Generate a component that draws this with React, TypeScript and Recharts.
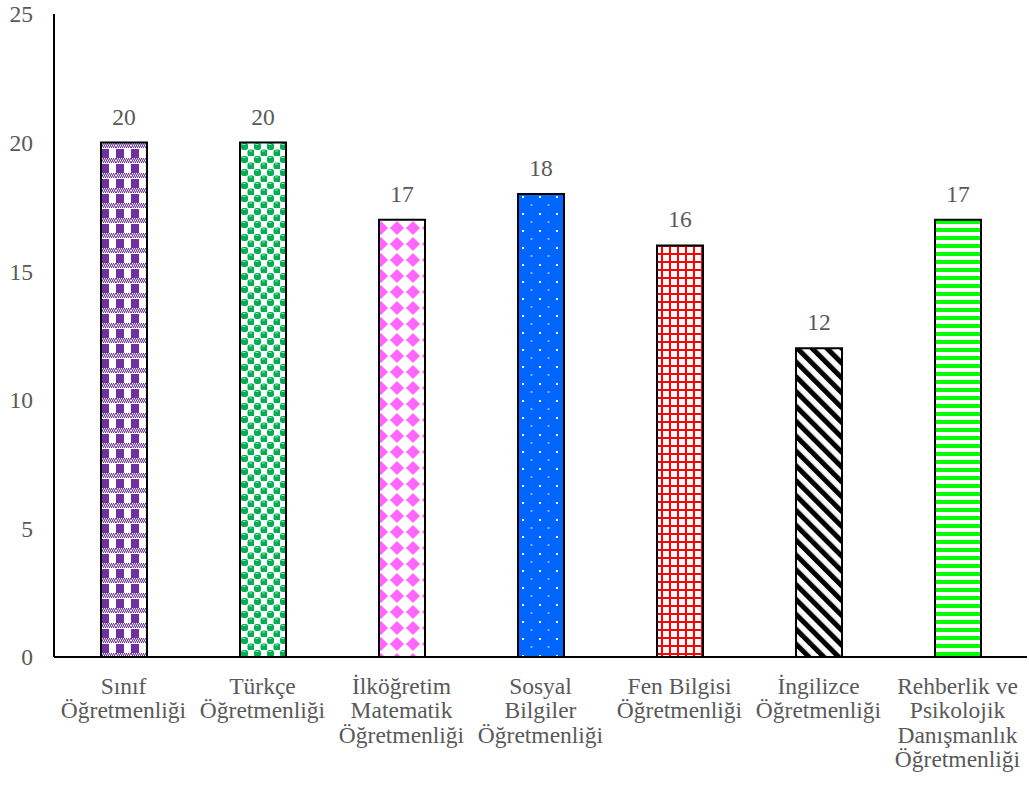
import { BarChart, Bar, XAxis, YAxis, LabelList, Cell } from "recharts";

const CATEGORIES = [
  "Sınıf Öğretmenliği",
  "Türkçe Öğretmenliği",
  "İlköğretim Matematik Öğretmenliği",
  "Sosyal Bilgiler Öğretmenliği",
  "Fen Bilgisi Öğretmenliği",
  "İngilizce Öğretmenliği",
  "Rehberlik ve Psikolojik Danışmanlık Öğretmenliği",
];

const TICK_LINES: string[][] = [
  ["Sınıf", "Öğretmenliği"],
  ["Türkçe", "Öğretmenliği"],
  ["İlköğretim", "Matematik", "Öğretmenliği"],
  ["Sosyal", "Bilgiler", "Öğretmenliği"],
  ["Fen Bilgisi", "Öğretmenliği"],
  ["İngilizce", "Öğretmenliği"],
  ["Rehberlik ve", "Psikolojik", "Danışmanlık", "Öğretmenliği"],
];

const COUNTS = [20, 20, 17, 18, 16, 12, 17];

const Y_TICKS = [0, 5, 10, 15, 20, 25];

const PATTERN_IDS = ["p-plaid", "p-sphere", "p-diamond", "p-dots", "p-grid", "p-diag", "p-hstripe"];

const FONT = "'Liberation Serif', 'Times New Roman', serif";
const FS = 23.5;

const data = CATEGORIES.map((name, i) => ({ name, value: COUNTS[i], idx: i }));

function Patterns() {
  return (
    <svg width={0} height={0} style={{ position: "absolute" }}>
      <defs>
        {/* purple plaid */}
        <pattern id="p-plaid" width={15} height={15} patternUnits="userSpaceOnUse" x={101} y={143}>
          <rect width={15} height={15} fill="#fff" />
          <rect x={0} y={0} width={8} height={15} fill="#7030A0" />
          <rect x={0} y={0} width={15} height={6} fill="#fff" />
          {[0, 2, 4, 6, 8, 10, 12, 14].map((x) =>
            [0, 2, 4].map((y) => (
              <rect key={`${x}-${y}`} x={x + ((y / 2) % 2)} y={y} width={1} height={1} fill="#7030A0" />
            ))
          )}
          <rect x={0} y={1} width={15} height={1} fill="#a47dc9" />
          <rect x={0} y={3} width={15} height={1} fill="#a47dc9" />
        </pattern>
        {/* green spheres */}
        <pattern id="p-sphere" width={13} height={13} patternUnits="userSpaceOnUse" x={241} y={143}>
          <rect width={13} height={13} fill="#fff" />
          <rect x={0} y={0} width={7} height={7} rx={2.5} fill="#00B050" />
          <rect x={6.5} y={6.5} width={7} height={7} rx={2.5} fill="#00B050" />
          <rect x={1.5} y={1} width={3} height={1} fill="#8fe6b4" />
          <rect x={8} y={7.5} width={3} height={1} fill="#8fe6b4" />
        </pattern>
        {/* magenta diamonds */}
        <pattern id="p-diamond" width={16} height={16} patternUnits="userSpaceOnUse" x={373} y={220}>
          <rect width={16} height={16} fill="#fff" />
          <polygon points="8,1 15,8 8,15 1,8" fill="#FF66FF" />
        </pattern>
        {/* blue with white dots */}
        <pattern id="p-dots" width={17} height={17} patternUnits="userSpaceOnUse" x={520} y={194}>
          <rect width={17} height={17} fill="#0066FF" />
          <rect x={2} y={2} width={2} height={2} fill="#fff" />
          <rect x={10.5} y={10.5} width={2} height={1} fill="#fff" />
        </pattern>
        {/* red grid */}
        <pattern id="p-grid" width={8} height={8} patternUnits="userSpaceOnUse" x={661} y={245}>
          <rect width={8} height={8} fill="#fff" />
          <rect x={0} y={0} width={2} height={8} fill="#FF0000" />
          <rect x={0} y={0} width={8} height={2} fill="#FF0000" />
        </pattern>
        {/* black diagonal stripes */}
        <pattern
          id="p-diag"
          width={10.5}
          height={10.5}
          patternUnits="userSpaceOnUse"
          patternTransform="rotate(-45)"
        >
          <rect width={10.5} height={10.5} fill="#fff" />
          <rect x={0} y={0} width={5} height={10.5} fill="#000" />
        </pattern>
        {/* green horizontal stripes */}
        <pattern id="p-hstripe" width={8} height={8} patternUnits="userSpaceOnUse" x={0} y={218}>
          <rect width={8} height={8} fill="#fff" />
          <rect x={0} y={2} width={8} height={4} fill="#00FF00" />
        </pattern>
      </defs>
    </svg>
  );
}

function CategoryTick(props: any) {
  const { x, y, payload } = props;
  const lines = TICK_LINES[payload.index] ?? [payload.value];
  return (
    <text x={x} y={y} textAnchor="middle" fill="#595959" fontSize={FS} fontFamily={FONT}>
      {lines.map((line, i) => (
        <tspan key={i} x={x} y={y + 29 + i * 24.3}>
          {line}
        </tspan>
      ))}
    </text>
  );
}

export default function App() {
  return (
    <div style={{ position: "absolute", left: 0, top: 0, width: 1029, height: 790, background: "#fff" }}>
      <Patterns />
      <BarChart
        width={1029}
        height={790}
        data={data}
        margin={{ top: 14, right: 2, left: 0, bottom: 0 }}
        barCategoryGap={0}
      >
        <XAxis
          dataKey="name"
          interval={0}
          height={133}
          axisLine={{ stroke: "#000", strokeWidth: 2 }}
          tickLine={false}
          tick={<CategoryTick />}
        />
        <YAxis
          domain={[0, 25]}
          ticks={Y_TICKS}
          width={54}
          axisLine={{ stroke: "#000", strokeWidth: 2 }}
          tickLine={false}
          tickSize={0}
          tickMargin={21}
          tick={{ fill: "#595959", fontSize: FS, fontFamily: FONT }}
        />
        <Bar dataKey="value" barSize={46} stroke="#000" strokeWidth={2} isAnimationActive={false}>
          {data.map((d) => (
            <Cell key={d.name} fill={`url(#${PATTERN_IDS[d.idx]})`} />
          ))}
          <LabelList
            dataKey="value"
            position="top"
            offset={18}
            fill="#595959"
            fontSize={FS}
            fontFamily={FONT}
          />
        </Bar>
      </BarChart>
    </div>
  );
}
